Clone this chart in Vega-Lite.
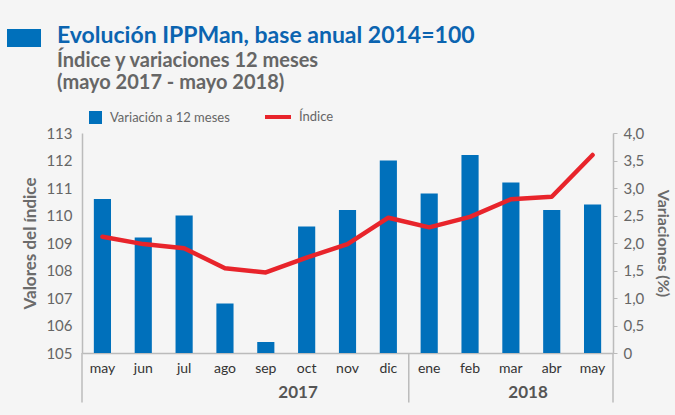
{
  "$schema": "https://vega.github.io/schema/vega-lite/v6.json",
  "width": 531,
  "height": 220,
  "autosize": {"type": "none"},
  "padding": {"left": 82, "top": 133, "right": 62, "bottom": 62},
  "background": "#f5f5f5",
  "config": {
    "font": "Lato",
    "view": {"stroke": null},
    "axis": {"labelFont": "Lato", "titleFont": "Lato"},
    "axisLeft": {
      "labelFontSize": 15,
      "labelColor": "#666666",
      "labelPadding": 10,
      "ticks": false,
      "grid": true,
      "gridDash": [6, 5],
      "gridColor": "#777777",
      "gridWidth": 1.2,
      "domainColor": "#bbbbbb",
      "domainWidth": 1.5,
      "titleFontSize": 17,
      "titleFontWeight": "bold",
      "titleColor": "#6b6b6b",
      "titlePadding": 6
    }
  },
  "title": {
    "text": "Evolución IPPMan, base anual 2014=100",
    "subtitle": ["Índice y variaciones 12 meses", "(mayo 2017 - mayo 2018)"],
    "anchor": "start",
    "frame": "group",
    "dx": -25,
    "dy": 76,
    "font": "Lato",
    "fontSize": 23,
    "fontWeight": "bold",
    "color": "#0b64b0",
    "subtitleFont": "Lato",
    "subtitleFontSize": 20,
    "subtitleFontWeight": "bold",
    "subtitleColor": "#666666",
    "subtitlePadding": 3,
    "subtitleLineHeight": 22
  },
  "data": {
    "values": [
      {"t": "may 2017", "var": 2.8, "idx": 109.23},
      {"t": "jun 2017", "var": 2.1, "idx": 108.96},
      {"t": "jul 2017", "var": 2.5, "idx": 108.81},
      {"t": "ago 2017", "var": 0.9, "idx": 108.08},
      {"t": "sep 2017", "var": 0.2, "idx": 107.93},
      {"t": "oct 2017", "var": 2.3, "idx": 108.47},
      {"t": "nov 2017", "var": 2.6, "idx": 108.96},
      {"t": "dic 2017", "var": 3.5, "idx": 109.92},
      {"t": "ene 2018", "var": 2.9, "idx": 109.57},
      {"t": "feb 2018", "var": 3.6, "idx": 109.95},
      {"t": "mar 2018", "var": 3.1, "idx": 110.59},
      {"t": "abr 2018", "var": 2.6, "idx": 110.68},
      {"t": "may 2018", "var": 2.7, "idx": 112.2}
    ]
  },
  "encoding": {
    "x": {
      "field": "t",
      "type": "nominal",
      "sort": null,
      "scale": {"paddingInner": 0, "paddingOuter": 0},
      "axis": {
        "title": null,
        "labelExpr": "split(datum.label, ' ')[0]",
        "labelAngle": 0,
        "labelFontSize": 14,
        "labelColor": "#333333",
        "labelPadding": 8,
        "ticks": false,
        "domainColor": "#bbbbbb",
        "domainWidth": 1.5
      }
    }
  },
  "layer": [
    {
      "mark": {"type": "bar", "width": {"band": 0.42}},
      "encoding": {
        "y": {
          "field": "var",
          "type": "quantitative",
          "scale": {"domain": [0, 4], "nice": false},
          "axis": {
            "orient": "right",
            "title": "Variaciones (%)",
            "values": [0, 0.5, 1, 1.5, 2, 2.5, 3, 3.5, 4],
            "labelExpr": "datum.value == 0 ? '0' : replace(format(datum.value, '.1f'), '.', ',')",
            "labelFontSize": 15,
            "labelColor": "#666666",
            "labelPadding": 6,
            "grid": false,
            "ticks": true,
            "tickSize": 4,
            "tickColor": "#bbbbbb",
            "domainColor": "#bbbbbb",
            "domainWidth": 1.5,
            "titleFontSize": 16,
            "titleFontWeight": "bold",
            "titleColor": "#6b6b6b",
            "titlePadding": 11
          }
        },
        "fill": {
          "datum": "Variación a 12 meses",
          "scale": {"range": ["#0070bb"]},
          "legend": {
            "title": null,
            "orient": "none",
            "legendX": 7,
            "legendY": -22,
            "symbolType": "square",
            "symbolSize": 169,
            "symbolStrokeWidth": 0,
            "labelFontSize": 13,
            "labelColor": "#666666",
            "labelOffset": 8
          }
        },
        "opacity": {
          "datum": "marca",
          "type": "ordinal",
          "scale": {"range": [1, 1]},
          "legend": {
            "title": null,
            "orient": "none",
            "legendX": -75,
            "legendY": -112,
            "symbolType": "M-1,-0.53H1V0.53H-1Z",
            "symbolSize": 1156,
            "symbolFillColor": "#3a82c6",
            "symbolStrokeWidth": 0,
            "symbolOpacity": 1,
            "labelExpr": "''",
            "labelFontSize": 1
          }
        }
      }
    },
    {
      "layer": [
        {
          "mark": {"type": "line", "strokeWidth": 4.5, "strokeCap": "round", "strokeJoin": "round"},
          "encoding": {
            "y": {
              "field": "idx",
              "type": "quantitative",
              "scale": {"domain": [105, 113], "nice": false, "zero": false},
              "axis": {"title": "Valores del índice", "values": [105, 106, 107, 108, 109, 110, 111, 112, 113]}
            },
            "stroke": {
              "datum": "Índice",
              "scale": {"range": ["#e8242b"]},
              "legend": {
                "title": null,
                "orient": "none",
                "legendX": 181,
                "legendY": -31,
                "symbolType": "stroke",
                "symbolSize": 676,
                "symbolStrokeWidth": 4,
                "labelFontSize": 13,
                "labelColor": "#666666",
                "labelOffset": 6
              }
            }
          }
        },
        {
          "data": {"values": [{"t": "may 2017", "a": 105, "b": 103.2}, {"t": "ene 2018", "a": 105, "b": 103.2}]},
          "mark": {"type": "rule", "color": "#bbbbbb", "strokeWidth": 1.5},
          "encoding": {
            "x": {"field": "t", "type": "nominal", "sort": null, "bandPosition": 0},
            "y": {
              "field": "a",
              "type": "quantitative",
              "scale": {"domain": [105, 113], "nice": false, "zero": false},
              "axis": {"title": "Valores del índice", "values": [105, 106, 107, 108, 109, 110, 111, 112, 113]}
            },
            "y2": {"field": "b"}
          }
        },
        {
          "data": {"values": [{"t": "may 2018", "a": 105, "b": 103.2}]},
          "mark": {"type": "rule", "color": "#bbbbbb", "strokeWidth": 1.5},
          "encoding": {
            "x": {"field": "t", "type": "nominal", "sort": null, "bandPosition": 1},
            "y": {
              "field": "a",
              "type": "quantitative",
              "scale": {"domain": [105, 113], "nice": false, "zero": false},
              "axis": {"title": "Valores del índice", "values": [105, 106, 107, 108, 109, 110, 111, 112, 113]}
            },
            "y2": {"field": "b"}
          }
        },
        {
          "data": {"values": [{"t": "oct 2017", "year": "2017", "y": 103.55}]},
          "mark": {"type": "text", "fontSize": 17, "fontWeight": "bold", "color": "#555555"},
          "encoding": {
            "x": {"field": "t", "type": "nominal", "sort": null, "bandPosition": 0.29},
            "y": {
              "field": "y",
              "type": "quantitative",
              "scale": {"domain": [105, 113], "nice": false, "zero": false},
              "axis": {"title": "Valores del índice", "values": [105, 106, 107, 108, 109, 110, 111, 112, 113]}
            },
            "text": {"field": "year"}
          }
        },
        {
          "data": {"values": [{"t": "mar 2018", "year": "2018", "y": 103.55}]},
          "mark": {"type": "text", "fontSize": 17, "fontWeight": "bold", "color": "#555555"},
          "encoding": {
            "x": {"field": "t", "type": "nominal", "sort": null, "bandPosition": 0.92},
            "y": {
              "field": "y",
              "type": "quantitative",
              "scale": {"domain": [105, 113], "nice": false, "zero": false},
              "axis": {"title": "Valores del índice", "values": [105, 106, 107, 108, 109, 110, 111, 112, 113]}
            },
            "text": {"field": "year"}
          }
        }
      ]
    }
  ],
  "resolve": {"scale": {"y": "independent", "fill": "independent", "stroke": "independent"}}
}
